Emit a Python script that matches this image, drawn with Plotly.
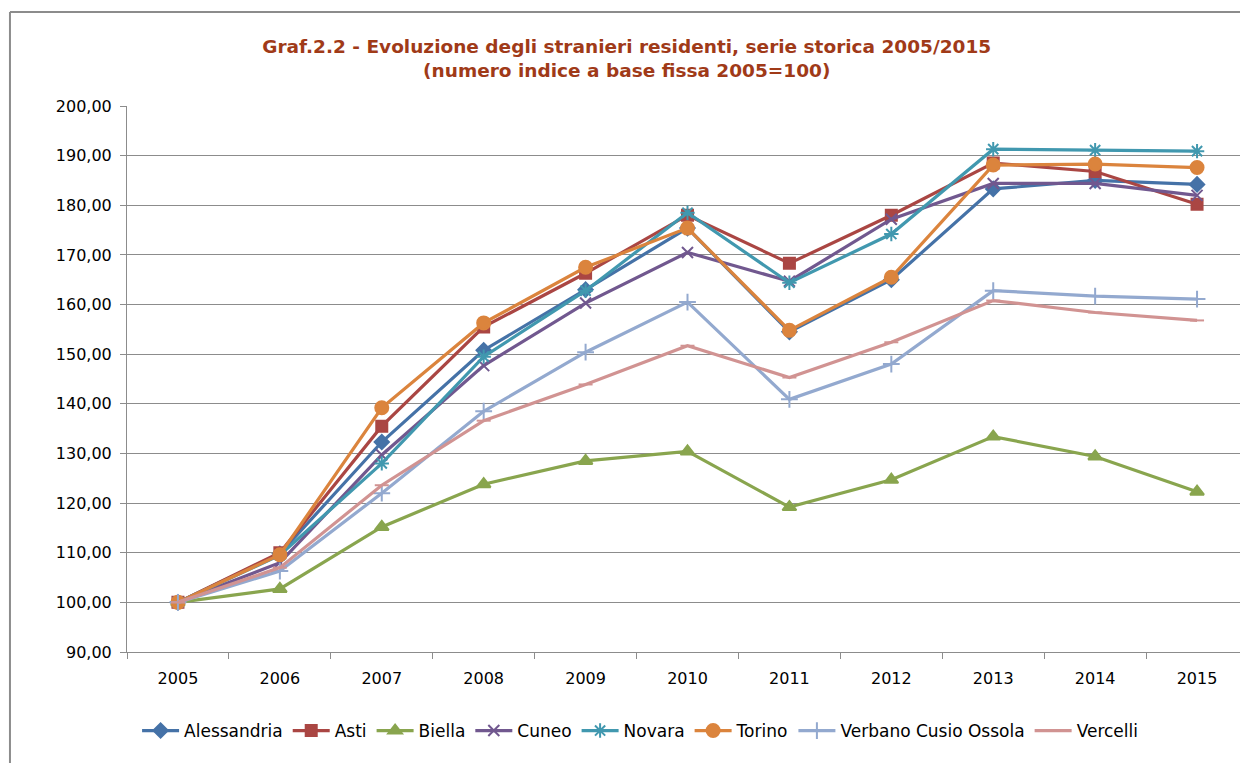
"""Graf.2.2 - foreign residents index, 2005-2015."""

import plotly.graph_objects as go

YEARS = ["2005", "2006", "2007", "2008", "2009", "2010", "2011", "2012", "2013", "2014", "2015"]

ALESSANDRIA = [100.0, 109.8, 132.3, 150.8, 163.0, 175.4, 154.5, 165.0, 183.3, 185.0, 184.2]
ASTI = [100.0, 110.0, 135.5, 155.5, 166.3, 178.0, 168.3, 178.0, 188.5, 186.8, 180.2]
BIELLA = [100.0, 102.7, 115.2, 123.8, 128.5, 130.4, 119.2, 124.7, 133.4, 129.4, 122.3]
CUNEO = [100.0, 108.0, 129.7, 147.7, 160.3, 170.5, 164.7, 177.2, 184.4, 184.4, 182.0]
NOVARA = [100.0, 109.5, 128.0, 149.5, 162.8, 178.5, 164.4, 174.2, 191.3, 191.1, 190.9]
TORINO = [100.0, 109.6, 139.2, 156.3, 167.5, 175.4, 154.8, 165.5, 188.1, 188.3, 187.6]
VERBANO = [100.0, 106.3, 122.0, 138.5, 150.4, 160.5, 140.9, 148.0, 162.8, 161.7, 161.1]
VERCELLI = [100.0, 107.0, 123.6, 136.6, 143.9, 151.7, 145.3, 152.4, 160.8, 158.4, 156.8]

SERIES = [
    ("Alessandria", ALESSANDRIA, "#4572A7", "diamond", 11),
    ("Asti", ASTI, "#AA4643", "square", 11),
    ("Biella", BIELLA, "#89A54E", "triangle-up", 12),
    ("Cuneo", CUNEO, "#71588F", "x-thin-open", 11),
    ("Novara", NOVARA, "#4198AF", "asterisk-open", 12),
    ("Torino", TORINO, "#DB843D", "circle", 13),
    ("Verbano Cusio Ossola", VERBANO, "#93A9CF", "cross-thin-open", 12),
    ("Vercelli", VERCELLI, "#D19392", "line-ew-open", 10),
]

TITLE_COLOR = "#A03A18"
GRID_COLOR = "#8C8C8C"
FONT = "DejaVu Sans, Verdana, sans-serif"

fig = go.Figure()

for name, values, color, symbol, size in SERIES:
    fig.add_trace(
        go.Scatter(
            x=YEARS,
            y=values,
            name=name,
            mode="lines+markers",
            line=dict(color=color, width=3.2),
            marker=dict(symbol=symbol, size=size, color=color, line=dict(color=color, width=2)),
        )
    )

# outer chart frame (top and left edges visible)
fig.add_shape(type="line", xref="paper", yref="paper", x0=-0.1044, x1=1.02, y0=1.172, y1=1.172,
              line=dict(color="#8C8C8C", width=2))
fig.add_shape(type="line", xref="paper", yref="paper", x0=-0.1044, x1=-0.1044, y0=1.172, y1=-0.3,
              line=dict(color="#8C8C8C", width=2))

fig.update_layout(
    width=1240,
    height=755,
    paper_bgcolor="white",
    plot_bgcolor="white",
    separators=",.",
    margin=dict(l=119, r=0, t=98, b=111),
    font=dict(family=FONT, size=16, color="#000000"),
    title=dict(
        text="<b>Graf.2.2 - Evoluzione degli stranieri residenti, serie storica 2005/2015<br>"
             "(numero indice a base fissa 2005=100)</b>",
        x=0.499,
        xanchor="center",
        y=0.941,
        yanchor="middle",
        font=dict(family=FONT, size=18.5, color=TITLE_COLOR),
    ),
    legend=dict(
        orientation="h",
        x=0.4577,
        xanchor="center",
        y=-0.1447,
        yanchor="middle",
        font=dict(family=FONT, size=17),
        itemwidth=37,
        tracegroupgap=0,
    ),
    showlegend=True,
)

fig.update_xaxes(
    type="category",
    range=[-0.5, 10.5],
    showgrid=False,
    showline=True,
    linecolor=GRID_COLOR,
    ticks="outside",
    tickson="boundaries",
    ticklen=6,
    tickcolor=GRID_COLOR,
    tickfont=dict(size=16),
    ticklabelstandoff=12,
)
fig.update_yaxes(
    range=[90, 200],
    dtick=10,
    tickformat=".2f",
    showgrid=True,
    gridcolor=GRID_COLOR,
    gridwidth=1,
    zeroline=False,
    showline=True,
    linecolor=GRID_COLOR,
    ticks="outside",
    ticklen=6,
    tickcolor=GRID_COLOR,
    tickfont=dict(size=16),
    ticklabelstandoff=5,
)

fig.write_html("out.html")
